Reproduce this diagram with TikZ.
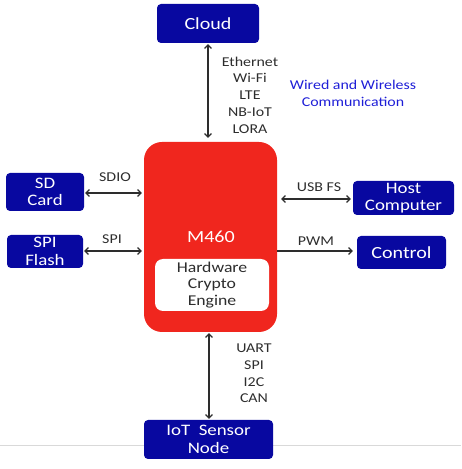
\documentclass[tikz,border=0pt]{standalone}
\usepackage{fontspec}
\setmainfont[FakeStretch=1.18]{Carlito}
\usepackage{tikz}
\usetikzlibrary{arrows.meta, shapes, positioning}
\usepackage{xcolor}
\definecolor{navyblock}{RGB}{8,8,160}
\definecolor{chipred}{RGB}{240,38,30}
\definecolor{linkgray}{RGB}{45,45,45}
\definecolor{noteblue}{RGB}{30,30,215}
\tikzset{peripheralnode/.style={rectangle, rounded corners=4pt, fill=navyblock, draw=none, text=white, align=center, inner sep=0pt, font=\fontsize{16}{17.5}\selectfont},labelnode/.style={align=center, text=linkgray, inner sep=0pt, font=\fontsize{13.5}{16.8}\selectfont}}
\tikzset{linkboth/.style={{Straight Barb[length=3.5pt,width=7pt]}-{Straight Barb[length=3.5pt,width=7pt]}, draw=linkgray, line width=1.1pt},linkone/.style={-{Straight Barb[length=3.5pt,width=7pt]}, draw=linkgray, line width=1.1pt}}

\begin{document}
\begin{tikzpicture}[x=1pt, y=1pt]
        \useasboundingbox (0, 0) rectangle (461, 469);
        % Slide edge
        \draw[black!15, line width=0.8pt] (0, 24) -- (461, 24);
        % Chip
        \node[rectangle, rounded corners=18pt, fill=chipred, minimum width=133pt, minimum height=190pt] (mcu) at (210.5, 232) {};
        \node[text=white, font=\fontsize{17}{18}\selectfont] (mcuname) at (211, 232) {M460};
        \node[rectangle, rounded corners=8pt, fill=white, minimum width=114pt, minimum height=52pt, align=center, text=linkgray, font=\fontsize{15}{16.8}\selectfont, inner sep=0pt] (crypto) at (212, 184) {Hardware\\Crypto\\Engine};
        % Peripherals
        \node[peripheralnode, minimum width=102pt, minimum height=39pt, font=\fontsize{17}{18}\selectfont] (cloud) at (208, 445.5) {Cloud};
        \node[peripheralnode, minimum width=78pt, minimum height=38pt] (sdcard) at (45, 277) {SD\\Card};
        \node[peripheralnode, minimum width=76pt, minimum height=33pt] (spiflash) at (45, 217.5) {SPI\\Flash};
        \node[peripheralnode, minimum width=101pt, minimum height=34pt] (host) at (403.5, 271) {Host\\Computer};
        \node[peripheralnode, minimum width=89pt, minimum height=33pt, font=\fontsize{17}{18}\selectfont] (control) at (401.5, 216.5) {Control};
        \node[peripheralnode, minimum width=129pt, minimum height=39pt] (iot) at (208.5, 29.5) {IoT~ Sensor\\Node};
        % Links
        \coordinate (iottop) at (iot.north -| 209, 0);
        \draw[linkboth, shorten >=4pt, shorten <=1pt] (cloud.south) -- (cloud.south |- mcu.north);
        \draw[linkboth, shorten <=1pt, shorten >=1pt] (mcu.south -| iottop) -- (iottop);
        \draw[linkboth, shorten <=1pt, shorten >=2pt] (sdcard.east |- 0, 276) -- (mcu.west |- 0, 276);
        \draw[linkboth, shorten <=1pt, shorten >=2pt] (spiflash.east |- 0, 218) -- (mcu.west |- 0, 218);
        \draw[linkboth, shorten <=4pt, shorten >=2pt] (mcu.east |- 0, 270) -- (host.west |- 0, 270);
        \draw[linkone, shorten >=4pt] (mcu.east |- 0, 218) -- (control.west |- 0, 218);
        % Link labels
        \node[labelnode] (wanbus) at (250, 374) {Ethernet\\Wi-Fi\\LTE\\NB-IoT\\LORA};
        \node[labelnode, text=noteblue] (wannote) at (353, 376) {Wired and Wireless\\Communication};
        \node[labelnode] (sdiobus) at (115, 292) {SDIO};
        \node[labelnode] (spibus) at (112, 230) {SPI};
        \node[labelnode] (usbbus) at (319, 282) {USB FS};
        \node[labelnode] (pwmbus) at (316, 228) {PWM};
        \node[labelnode] (iotbus) at (254, 95.5) {UART\\SPI\\I2C\\CAN};
    \end{tikzpicture}
\end{document}
